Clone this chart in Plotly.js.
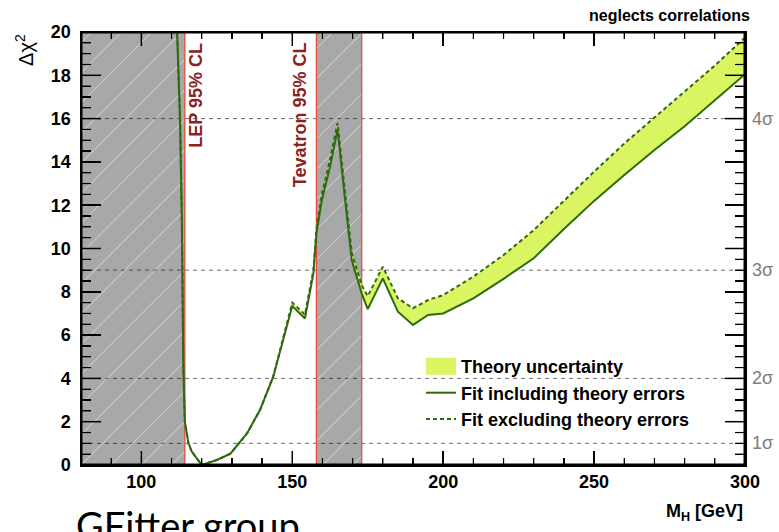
<!DOCTYPE html>
<html>
<head>
<meta charset="utf-8">
<script src="https://cdn.plot.ly/plotly-3.0.1.min.js"></script>
<style>
  html, body { margin: 0; padding: 0; background: #ffffff; }
  #chart { width: 779px; height: 532px; }
</style>
</head>
<body>
<div id="chart"></div>
<script>
// Higgs mass scan: delta chi^2 versus M_H (GeV)
const massGrid = [111.5, 112.8, 113.4, 113.9, 114.4, 115.6, 116.7, 118.5, 120, 125, 129.5,
  135, 139.3, 143.7, 147, 150, 154.2, 157, 158, 159.8, 162.5, 165, 167.5, 169.7, 173,
  175, 180, 185, 190, 195, 200, 210, 220, 230, 240, 250, 260, 270, 280, 290, 300];

// fit including theory errors (solid curve, lower edge of the band)
const fitWithTheory = [21.5, 16.0, 11.5, 4.5, 2.0, 1.0, 0.62, 0.25, 0.0, 0.23, 0.52,
  1.46, 2.54, 4.08, 5.77, 7.34, 6.77, 8.85, 10.7, 12.24, 13.78, 15.5, 12.24, 9.47, 7.93,
  7.2, 8.62, 7.08, 6.47, 6.93, 7.0, 7.7, 8.6, 9.55, 10.9, 12.2, 13.4, 14.55, 15.65, 16.85, 18.05];

// fit excluding theory errors (dashed curve, upper edge of the band)
const fitWithoutTheory = [21.5, 16.0, 11.5, 4.5, 2.0, 1.0, 0.62, 0.25, 0.0, 0.23, 0.52,
  1.46, 2.54, 4.1, 5.82, 7.5, 6.95, 9.0, 10.9, 12.5, 14.1, 15.8, 12.6, 9.8, 8.3,
  7.8, 9.16, 7.7, 7.24, 7.62, 7.85, 8.7, 9.7, 10.85, 12.2, 13.55, 14.85, 16.05, 17.25, 18.45, 19.75];

// direct search exclusions at 95% CL
const lepExclusion = [80, 114.4];
const tevatronExclusion = [158, 173];

const massRange = [80, 300];
const chi2Range = [0, 20];
const massTicks = [100, 150, 200, 250, 300];
const chi2Ticks = [0, 2, 4, 6, 8, 10, 12, 14, 16, 18, 20];
const massMinorStep = 10;
const chi2MinorStep = 0.5;

// delta chi^2 levels for n sigma
const sigmaLevels = [1, 4, 9, 16];
const sigmaLabels = ['1σ', '2σ', '3σ', '4σ'];

const GREEN = '#2e6a12';
const BAND = '#daf562';
const RED = '#e8493c';
const LABEL_RED = '#8b2222';
const SHADE = 'rgba(0,0,0,0.34)';

const WIDTH = 779, HEIGHT = 532;
const MARGIN = { l: 81, r: 34, t: 32, b: 67 };
const PLOT_W = WIDTH - MARGIN.l - MARGIN.r;
const PLOT_H = HEIGHT - MARGIN.t - MARGIN.b;
const FAMILY = 'Liberation Sans, Arial, sans-serif';

function bold(s) { return '<b>' + s + '</b>'; }

function exclusionFill(range) {
  return {
    x: [range[0], range[1], range[1], range[0], range[0]],
    y: [chi2Range[0], chi2Range[0], chi2Range[1], chi2Range[1], chi2Range[0]],
    type: 'scatter', mode: 'lines', fill: 'toself', fillcolor: SHADE,
    line: { width: 0, color: SHADE }, showlegend: false, hoverinfo: 'skip'
  };
}

// 45-degree hatching (in screen space) clipped to an exclusion window
function exclusionHatch(range, step) {
  const slope = (PLOT_W / (massRange[1] - massRange[0])) / (PLOT_H / (chi2Range[1] - chi2Range[0]));
  const span = (chi2Range[1] - chi2Range[0]) / slope;
  const xs = [], ys = [];
  for (let c = Math.floor((range[0] - span) / step) * step; c < range[1]; c += step) {
    const x0 = Math.max(range[0], c), x1 = Math.min(range[1], c + span);
    if (x1 <= x0) continue;
    xs.push(x0, x1, null);
    ys.push(chi2Range[0] + slope * (x0 - c), chi2Range[0] + slope * (x1 - c), null);
  }
  return { x: xs, y: ys, type: 'scatter', mode: 'lines',
           line: { color: 'rgba(255,255,255,0.55)', width: 1 }, showlegend: false, hoverinfo: 'skip' };
}

function exclusionEdges(range) {
  return {
    x: [range[0], range[0], null, range[1], range[1]],
    y: [chi2Range[0], chi2Range[1], null, chi2Range[1], chi2Range[0]],
    type: 'scatter', mode: 'lines', line: { color: RED, width: 1.3 },
    showlegend: false, hoverinfo: 'skip'
  };
}

// inward tick marks on both opposite sides of the frame (length in pixels)
function frameTicks(values, onMassAxis, lenPx, width) {
  const xs = [], ys = [];
  if (onMassAxis) {
    const dy = lenPx * (chi2Range[1] - chi2Range[0]) / PLOT_H;
    values.forEach(function (v) {
      xs.push(v, v, null, v, v, null);
      ys.push(chi2Range[0], chi2Range[0] + dy, null, chi2Range[1], chi2Range[1] - dy, null);
    });
  } else {
    const dx = lenPx * (massRange[1] - massRange[0]) / PLOT_W;
    values.forEach(function (v) {
      xs.push(massRange[0], massRange[0] + dx, null, massRange[1], massRange[1] - dx, null);
      ys.push(v, v, null, v, v, null);
    });
  }
  return { x: xs, y: ys, type: 'scatter', mode: 'lines', line: { color: '#000', width: width },
           showlegend: false, hoverinfo: 'skip' };
}

function minorValues(range, step, majors) {
  const out = [];
  const n = Math.round((range[1] - range[0]) / step);
  for (let i = 0; i <= n; i++) {
    const v = range[0] + i * step;
    if (majors.indexOf(v) < 0) out.push(v);
  }
  return out;
}

const frameBox = {
  x: [massRange[0], massRange[1], massRange[1], massRange[0], massRange[0]],
  y: [chi2Range[0], chi2Range[0], chi2Range[1], chi2Range[1], chi2Range[0]],
  type: 'scatter', mode: 'lines', line: { color: '#000', width: 3 },
  showlegend: false, hoverinfo: 'skip'
};

const traces = [
  exclusionFill(lepExclusion),
  exclusionFill(tevatronExclusion),
  exclusionHatch(lepExclusion, 10),
  exclusionHatch(tevatronExclusion, 10),
  exclusionEdges(lepExclusion),
  exclusionEdges(tevatronExclusion),
  { x: massGrid, y: fitWithTheory, type: 'scatter', mode: 'lines',
    line: { width: 0, color: BAND }, showlegend: false, hoverinfo: 'skip' },
  { x: massGrid, y: fitWithoutTheory, type: 'scatter', mode: 'lines', fill: 'tonexty',
    fillcolor: BAND, line: { width: 0, color: BAND }, name: bold('Theory uncertainty') },
  { x: massGrid, y: fitWithTheory, type: 'scatter', mode: 'lines',
    line: { color: GREEN, width: 2 }, name: bold('Fit including theory errors') },
  { x: massGrid, y: fitWithoutTheory, type: 'scatter', mode: 'lines',
    line: { color: GREEN, width: 2, dash: '4px,3px' }, name: bold('Fit excluding theory errors') },
  frameTicks(massTicks, true, 14, 1.5),
  frameTicks(minorValues(massRange, massMinorStep, massTicks), true, 7, 1.2),
  frameTicks(chi2Ticks, false, 20, 1.5),
  frameTicks(minorValues(chi2Range, chi2MinorStep, chi2Ticks), false, 10, 1.2),
  frameBox
];

const tickFont = { family: FAMILY, size: 18, color: '#000' };

// dashed reference lines at the n-sigma levels
const sigmaLines = sigmaLevels.map(function (v) {
  return { type: 'line', xref: 'paper', yref: 'y', x0: 0, x1: 1, y0: v, y1: v,
           layer: 'below', line: { color: '#6e6e6e', width: 1, dash: '4px,4px' } };
});

const sigmaTexts = sigmaLevels.map(function (v, i) {
  return { text: sigmaLabels[i], xref: 'paper', yref: 'y', x: 1, y: v,
           xanchor: 'left', yanchor: 'middle', xshift: 5, showarrow: false,
           font: { family: FAMILY, size: 18, color: '#7d7d7d' } };
});

const layout = {
  width: WIDTH, height: HEIGHT,
  margin: MARGIN,
  showlegend: true,
  legend: {
    x: 0.512, y: 0.27, xanchor: 'left', yanchor: 'top', traceorder: 'normal',
    bgcolor: 'rgba(0,0,0,0)', borderwidth: 0,
    font: { family: FAMILY, size: 18, color: '#000' },
    itemwidth: 30, tracegroupgap: 0
  },
  xaxis: {
    range: massRange, showgrid: false, zeroline: false,
    showline: true, linecolor: '#000', linewidth: 1.5, mirror: 'ticks',
    ticks: 'inside', ticklen: 14, tickwidth: 1.5, tickcolor: '#000',
    tickvals: massTicks, ticktext: massTicks.map(function (v) { return bold(v); }), tickfont: tickFont,
    minor: { dtick: massMinorStep, tick0: 100, ticks: 'inside', ticklen: 7, tickwidth: 1.2, tickcolor: '#000', showgrid: false }
  },
  yaxis: {
    range: chi2Range, showgrid: false, zeroline: false,
    showline: true, linecolor: '#000', linewidth: 1.5, mirror: 'ticks',
    ticks: 'inside', ticklen: 20, tickwidth: 1.5, tickcolor: '#000',
    tickvals: chi2Ticks, ticktext: chi2Ticks.map(function (v) { return bold(v) + '\u00a0'; }), tickfont: tickFont,
    minor: { dtick: chi2MinorStep, tick0: 0, ticks: 'inside', ticklen: 10, tickwidth: 1.2, tickcolor: '#000', showgrid: false }
  },
  shapes: sigmaLines,
  annotations: sigmaTexts.concat([
    { text: bold('LEP 95% CL'), xref: 'x', yref: 'y', x: 118.3, y: 19.6,
      xanchor: 'center', yanchor: 'top', textangle: -90, showarrow: false,
      font: { family: FAMILY, size: 18, color: LABEL_RED } },
    { text: bold('Tevatron 95% CL'), xref: 'x', yref: 'y', x: 152.6, y: 19.6,
      xanchor: 'center', yanchor: 'top', textangle: -90, showarrow: false,
      font: { family: FAMILY, size: 18, color: LABEL_RED } },
    { text: 'Δχ<sup>2</sup>', xref: 'paper', yref: 'paper', x: -0.086, y: 1.0,
      xanchor: 'center', yanchor: 'top', textangle: -90, showarrow: false,
      font: { family: FAMILY, size: 20, color: '#000' } },
    { text: bold('M<sub>H</sub> [GeV]'), xref: 'paper', yref: 'paper', x: 1.0, y: -0.11,
      xanchor: 'right', yanchor: 'middle', showarrow: false,
      font: { family: FAMILY, size: 18, color: '#000' } },
    { text: bold('neglects correlations'), xref: 'paper', yref: 'paper', x: 1.0105, y: 1.037,
      xanchor: 'right', yanchor: 'middle', showarrow: false,
      font: { family: FAMILY, size: 16, color: '#000' } },
    { text: 'GFitter group', xref: 'paper', yref: 'paper', x: -0.01, y: -0.080,
      xanchor: 'left', yanchor: 'top', showarrow: false,
      font: { family: 'Lato, sans-serif', size: 38, color: '#000' } }
  ])
};

Plotly.newPlot('chart', traces, layout, { staticPlot: true, displayModeBar: false }).then(function (gd) {
  // taller swatch box for the filled band entry in the legend
  gd.querySelectorAll('.legend .legendfill path').forEach(function (p) {
    p.setAttribute('d', 'M5,-8.5h30v17h-30z');
  });
});
</script>
</body>
</html>
